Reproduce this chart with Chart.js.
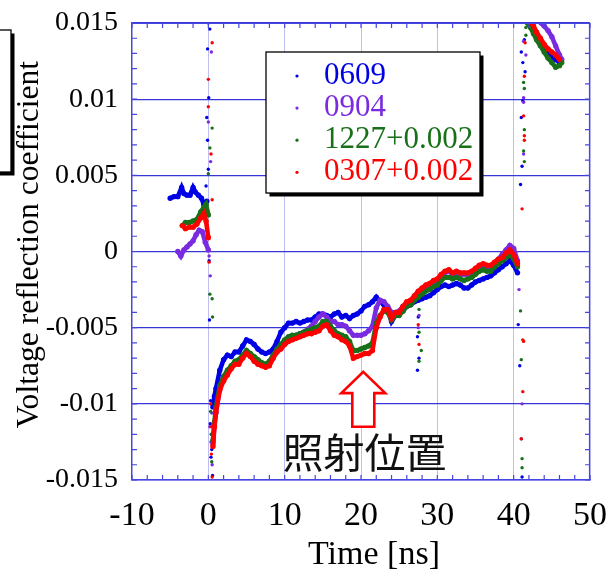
<!DOCTYPE html>
<html>
<head>
<meta charset="utf-8">
<script src="https://cdn.jsdelivr.net/npm/chart.js@4.4.1/dist/chart.umd.min.js"></script>
<style>
  html, body { margin: 0; padding: 0; background: #fff; overflow: hidden; }
  canvas { display: block; }
</style>
</head>
<body>
<canvas id="chart" width="612" height="571"></canvas>
<script>
// ---- series names and colours ----
const seriesNames  = ['0609', '0904', '1227+0.002', '0307+0.002'];
const seriesColors = ['#0000e6', '#7a2be0', '#187018', '#ff0000'];

// ---- axis ticks and titles ----
const xTickValues = [-10, 0, 10, 20, 30, 40, 50];
const yTickValues = [-0.015, -0.01, -0.005, 0, 0.005, 0.01, 0.015];
const xTitle = 'Time [ns]';
const yTitle = 'Voltage reflection coefficient';

// ---- common time base of the main trace (ns) ----
const mainTime = [
  0.6, 0.8, 1, 1.5, 2, 2.5, 3, 3.5, 4, 4.5,
  5, 5.5, 6, 6.5, 7, 7.5, 8, 8.5, 9, 9.5,
  10, 10.5, 11, 11.5, 12, 12.5, 13, 13.5, 14, 14.5,
  15, 15.5, 16, 16.5, 17, 17.5, 18, 18.5, 19, 19.5,
  20, 20.5, 21, 21.5, 22, 22.5, 23, 23.5, 24, 24.5,
  25, 25.5, 26, 26.5, 27, 27.5, 28, 28.5, 29, 29.5,
  30, 30.5, 31, 31.5, 32, 32.5, 33, 33.5, 34, 34.5,
  35, 35.5, 36, 36.5, 37, 37.5, 38, 38.5, 39, 39.5,
  40, 40.5
];

// ---- main trace values, one per mainTime entry ----
const blueMain = [
  -0.0102, -0.0095, -0.0090, -0.0078, -0.0071, -0.0068, -0.0069, -0.0066, -0.0066, -0.0062,
  -0.0058, -0.0059, -0.0061, -0.0064, -0.0066, -0.0067, -0.0066, -0.0064, -0.0059, -0.0053,
  -0.0050, -0.0047, -0.0047, -0.0046, -0.0047, -0.0046, -0.0045, -0.0045, -0.0043, -0.0041,
  -0.0041, -0.0042, -0.0043, -0.0041, -0.0040, -0.0043, -0.0042, -0.0044, -0.0042, -0.0041,
  -0.0039, -0.0036, -0.0035, -0.0033, -0.0030, -0.0033, -0.0035, -0.0038, -0.0046, -0.0042,
  -0.0040, -0.0039, -0.0036, -0.0035, -0.0033, -0.0032, -0.0031, -0.0030, -0.0029, -0.0027,
  -0.0025, -0.0023, -0.0022, -0.0023, -0.0022, -0.0021, -0.0022, -0.0024, -0.0024, -0.0022,
  -0.0020, -0.0019, -0.0018, -0.0017, -0.0016, -0.0014, -0.0012, -0.0010, -0.0008, -0.0006,
  -0.0009, -0.0014
];
const purpleMain = [
  -0.0126, -0.0114, -0.0106, -0.0090, -0.0083, -0.0079, -0.0076, -0.0073, -0.0072, -0.0069,
  -0.0066, -0.0068, -0.0070, -0.0072, -0.0074, -0.0075, -0.0073, -0.0069, -0.0065, -0.0062,
  -0.0059, -0.0057, -0.0056, -0.0055, -0.0054, -0.0053, -0.0051, -0.0049, -0.0046, -0.0043,
  -0.0041, -0.0043, -0.0046, -0.0046, -0.0048, -0.0048, -0.0049, -0.0052, -0.0055, -0.0055,
  -0.0055, -0.0054, -0.0052, -0.0049, -0.0037, -0.0032, -0.0033, -0.0036, -0.0040, -0.0040,
  -0.0039, -0.0036, -0.0034, -0.0033, -0.0030, -0.0027, -0.0025, -0.0023, -0.0022, -0.0020,
  -0.0019, -0.0016, -0.0014, -0.0013, -0.0015, -0.0014, -0.0015, -0.0015, -0.0015, -0.0014,
  -0.0012, -0.0010, -0.0009, -0.0010, -0.0010, -0.0008, -0.0005, -0.0002, 0.0001, 0.0004,
  0.0002, -0.0006
];
const greenMain = [
  -0.0124, -0.0112, -0.0102, -0.0088, -0.0082, -0.0078, -0.0075, -0.0072, -0.0071, -0.0068,
  -0.0065, -0.0067, -0.0069, -0.0071, -0.0073, -0.0074, -0.0072, -0.0068, -0.0064, -0.0061,
  -0.0058, -0.0056, -0.0055, -0.0055, -0.0054, -0.0053, -0.0052, -0.0051, -0.0050, -0.0049,
  -0.0046, -0.0046, -0.0049, -0.0052, -0.0054, -0.0055, -0.0056, -0.0059, -0.0065, -0.0065,
  -0.0064, -0.0063, -0.0062, -0.0060, -0.0047, -0.0042, -0.0039, -0.0040, -0.0045, -0.0042,
  -0.0042, -0.0039, -0.0036, -0.0035, -0.0032, -0.0030, -0.0028, -0.0026, -0.0025, -0.0023,
  -0.0022, -0.0019, -0.0017, -0.0017, -0.0018, -0.0017, -0.0018, -0.0019, -0.0018, -0.0017,
  -0.0015, -0.0013, -0.0012, -0.0013, -0.0013, -0.0010, -0.0008, -0.0006, -0.0004, -0.0002,
  -0.0005, -0.0010
];
const redMain = [
  -0.0128, -0.0115, -0.0105, -0.0091, -0.0085, -0.0081, -0.0077, -0.0074, -0.0074, -0.0070,
  -0.0067, -0.0069, -0.0072, -0.0074, -0.0075, -0.0076, -0.0075, -0.0070, -0.0066, -0.0064,
  -0.0061, -0.0059, -0.0058, -0.0057, -0.0056, -0.0055, -0.0054, -0.0054, -0.0053, -0.0052,
  -0.0049, -0.0048, -0.0052, -0.0055, -0.0056, -0.0058, -0.0059, -0.0062, -0.0070, -0.0069,
  -0.0068, -0.0067, -0.0067, -0.0065, -0.0050, -0.0043, -0.0038, -0.0038, -0.0044, -0.0040,
  -0.0040, -0.0036, -0.0033, -0.0032, -0.0029, -0.0026, -0.0024, -0.0022, -0.0021, -0.0019,
  -0.0018, -0.0015, -0.0013, -0.0012, -0.0014, -0.0013, -0.0014, -0.0014, -0.0014, -0.0013,
  -0.0011, -0.0009, -0.0008, -0.0009, -0.0009, -0.0007, -0.0005, -0.0004, -0.0001, 0.0001,
  -0.0002, -0.0008
];

// ---- level before the pulse, [time ns, value] ----
const blueLead = [[-5.0, 0.0035], [-4.5, 0.0036], [-4.0, 0.0036], [-3.5, 0.0042], [-3.2, 0.0038],
  [-2.8, 0.0037], [-2.4, 0.0037], [-2.0, 0.0042], [-1.7, 0.0039], [-1.3, 0.0037], [-0.9, 0.0035],
  [-0.6, 0.0031], [-0.2, 0.0033]];
const purpleLead = [[-4.0, 0.0000], [-3.6, -0.0003], [-3.2, 0.0001], [-2.8, 0.0003], [-2.4, 0.0005],
  [-2.0, 0.0007], [-1.6, 0.0011], [-1.2, 0.0014], [-0.8, 0.0013], [-0.4, 0.0006], [0.0, 0.0001]];
const greenLead = [[-3.4, 0.0017], [-3.0, 0.0019], [-2.5, 0.0019], [-2.0, 0.0020], [-1.5, 0.0021],
  [-1.0, 0.0026], [-0.6, 0.0029], [-0.3, 0.0031], [0.0, 0.0024]];
const redLead = [[-3.4, 0.0017], [-3.0, 0.0015], [-2.5, 0.0016], [-2.0, 0.0016], [-1.5, 0.0018],
  [-1.0, 0.0022], [-0.6, 0.0025], [-0.3, 0.0020], [0.0, 0.0009]];

// ---- trace after the second reflection, [time ns, value] ----
const blueTail = [[42.2, 0.0148], [42.6, 0.0145], [43.0, 0.0141], [43.5, 0.0138], [44.0, 0.0134],
  [44.5, 0.0131], [45.0, 0.0128], [45.5, 0.0126], [46.0, 0.0124]];
const purpleTail = [[43.6, 0.0150], [44.0, 0.0148], [44.5, 0.0145], [45.0, 0.0141], [45.5, 0.0135],
  [46.0, 0.0129], [46.3, 0.0126]];
const greenTail = [[41.8, 0.0150], [42.2, 0.0147], [42.6, 0.0143], [43.0, 0.0139], [43.5, 0.0135],
  [44.0, 0.0131], [44.5, 0.0127], [45.0, 0.0124], [45.5, 0.0121], [46.0, 0.0122], [46.3, 0.0124]];
const redTail = [[42.3, 0.0150], [42.6, 0.0148], [43.0, 0.0144], [43.5, 0.0140], [44.0, 0.0136],
  [44.5, 0.0133], [45.0, 0.0131], [45.5, 0.0129], [46.0, 0.0126]];

// ---- isolated samples on the fast edges, [time ns, value] ----
const blueJumps = [[0.2, 0.0146], [-0.1, 0.0133], [0.05, 0.0101], [-0.2, 0.0088], [-0.1, 0.0073],
  [0.0, 0.0054], [-0.3, 0.0043], [0.1, -0.0006], [0.15, -0.0045], [0.3, -0.0098], [0.25, -0.0113],
  [0.45, -0.0130], [0.35, -0.0135], [0.55, -0.0147], [0.4, -0.0120],
  [27.5, -0.0043], [27.4, -0.0056], [27.6, -0.0070], [27.4, -0.0078],
  [40.6, -0.0048], [40.8, -0.0075], [41.0, -0.0123], [41.1, -0.0148], [40.9, 0.0044], [41.1, 0.0056],
  [41.0, 0.0088], [41.2, 0.0099], [41.5, 0.0118], [41.2, 0.0124], [41.0, 0.0131], [41.4, 0.0139]];
const purpleJumps = [[0.4, 0.0131], [0.0, 0.0085], [0.3, 0.0059], [0.1, -0.0003], [0.25, -0.0016],
  [0.35, -0.0125], [0.2, -0.0115], [0.5, -0.0140], [0.45, -0.0106],
  [27.6, -0.0042], [27.5, -0.0050],
  [41.1, -0.0100], [40.7, -0.0025], [41.3, 0.0064], [41.3, 0.0098], [41.3, 0.0101], [41.6, 0.0129],
  [41.3, 0.0138]];
const greenJumps = [[0.0, 0.0150], [0.5, 0.0081], [0.2, 0.0068], [0.0, 0.0051], [0.2, -0.0028],
  [0.5, -0.0031], [0.55, -0.0043], [0.4, -0.0120], [0.45, -0.0138], [0.3, -0.0105],
  [27.6, -0.0038], [27.6, -0.0053], [27.9, -0.0065], [27.6, -0.0072],
  [40.9, -0.0039], [41.0, -0.0071], [41.1, -0.0136], [41.1, -0.0142], [41.4, 0.0059], [41.3, 0.0066],
  [41.4, 0.0080], [41.4, 0.0107], [41.3, 0.0111], [41.6, 0.0142], [41.6, 0.0147]];
const redJumps = [[0.5, 0.0137], [0.0, 0.0113], [0.0, 0.0095], [0.35, 0.0064], [0.5, 0.0034],
  [0.1, -0.0007], [0.5, -0.0148], [0.4, -0.0133], [0.3, -0.0100], [0.45, -0.0115],
  [27.5, -0.0048], [27.6, -0.0061],
  [41.2, -0.0058], [41.3, -0.0059], [41.2, -0.0092], [41.0, -0.0123], [41.1, 0.0028], [41.4, 0.0073],
  [41.4, 0.0076], [41.3, 0.0089], [41.4, 0.0115], [41.5, 0.0137]];

// ---- irradiation-position marker ----
const noteText = '照射位置';
const arrowTime = 20.3;                                   // ns
const arrowTip = -0.0079, arrowNeck = -0.0093, arrowBase = -0.0115;
const noteTime = 20.45, noteLevel = -0.0132;

// ---------------------------------------------------------------
const leads  = [blueLead, purpleLead, greenLead, redLead];
const mains  = [blueMain, purpleMain, greenMain, redMain];
const tails  = [blueTail, purpleTail, greenTail, redTail];
const jumps  = [blueJumps, purpleJumps, greenJumps, redJumps];

const toPoints = pairs => pairs.map(([x, y]) => ({ x, y }));
const gap = x => ({ x, y: null });

const datasets = [];
seriesNames.forEach((name, i) => {
  const color = seriesColors[i];
  const drawOrder = seriesNames.length - 1 - i;   // last series on top
  datasets.push({
    label: name,
    data: [
      ...toPoints(leads[i]), gap(0.3),
      ...mainTime.map((t, k) => ({ x: t, y: mains[i][k] })), gap(41.5),
      ...toPoints(tails[i])
    ],
    showLine: true,
    spanGaps: false,
    borderColor: color,
    backgroundColor: color,
    borderWidth: 4.6,
    pointRadius: 2.7,
    pointBorderWidth: 0,
    pointHoverRadius: 2.7,
    order: drawOrder,
    clip: 0
  });
  datasets.push({
    label: name + ' edge',
    data: toPoints(jumps[i]),
    showLine: false,
    backgroundColor: color,
    borderColor: color,
    pointRadius: 1.7,
    pointBorderWidth: 0,
    order: drawOrder,
    clip: 0
  });
});

const AXIS_BLUE = 'rgb(70,70,225)';
const SERIF = "'Liberation Serif', 'Times New Roman', serif";

function shadowBox(ctx, x, y, w, h) {
  ctx.save();
  ctx.fillStyle = '#000';
  ctx.fillRect(x + 3.5, y + 3.5, w, h);
  ctx.fillStyle = '#fff';
  ctx.fillRect(x, y, w, h);
  ctx.strokeStyle = '#000';
  ctx.lineWidth = 1.3;
  ctx.strokeRect(x, y, w, h);
  ctx.restore();
}

const framePlugin = {
  id: 'frame',
  beforeDraw(chart) {
    // neighbouring panel edge at the far left
    shadowBox(chart.ctx, -20, 30, 31, 142);
  },
  afterDatasetsDraw(chart) {
    const { ctx, chartArea: a, scales: { x, y } } = chart;
    ctx.save();
    ctx.strokeStyle = AXIS_BLUE;
    ctx.lineWidth = 1.2;
    // top and right edges of the plot frame
    ctx.beginPath();
    ctx.moveTo(a.left, a.top + 0.5); ctx.lineTo(a.right, a.top + 0.5);
    ctx.moveTo(a.right - 0.5, a.top); ctx.lineTo(a.right - 0.5, a.bottom);
    ctx.stroke();
    // inward minor ticks
    ctx.beginPath();
    for (let t = -10; t <= 50; t += 2) {
      const px = x.getPixelForValue(t);
      ctx.moveTo(px, a.bottom); ctx.lineTo(px, a.bottom - 5);
      ctx.moveTo(px, a.top); ctx.lineTo(px, a.top + 5);
    }
    for (let k = -15; k <= 15; k++) {
      const py = y.getPixelForValue(k / 1000);
      ctx.moveTo(a.left, py); ctx.lineTo(a.left + 5, py);
      ctx.moveTo(a.right, py); ctx.lineTo(a.right - 5, py);
    }
    ctx.stroke();
    ctx.restore();
  },
  afterDraw(chart) {
    const { ctx, chartArea: a, scales: { x, y } } = chart;

    // legend box
    const lx = a.left + 134, ly = a.top + 29, lw = 214, lh = 141;
    shadowBox(ctx, lx, ly, lw, lh);
    ctx.save();
    ctx.font = '31px ' + SERIF;
    ctx.textBaseline = 'middle';
    ctx.textAlign = 'left';
    seriesNames.forEach((name, i) => {
      const rowY = ly + 24 + i * 32.1;
      ctx.fillStyle = seriesColors[i];
      ctx.beginPath();
      ctx.arc(lx + 31, rowY, 1.6, 0, Math.PI * 2);
      ctx.fill();
      ctx.fillText(name, lx + 58, rowY);
    });
    ctx.restore();

    // irradiation arrow
    const ax = x.getPixelForValue(arrowTime);
    const yTip = y.getPixelForValue(arrowTip);
    const yNeck = y.getPixelForValue(arrowNeck);
    const yBase = y.getPixelForValue(arrowBase);
    ctx.save();
    ctx.beginPath();
    ctx.moveTo(ax, yTip);
    ctx.lineTo(ax + 22, yNeck);
    ctx.lineTo(ax + 11, yNeck);
    ctx.lineTo(ax + 11, yBase);
    ctx.lineTo(ax - 11, yBase);
    ctx.lineTo(ax - 11, yNeck);
    ctx.lineTo(ax - 22, yNeck);
    ctx.closePath();
    ctx.fillStyle = '#fff';
    ctx.fill();
    ctx.strokeStyle = '#ff0000';
    ctx.lineWidth = 2.6;
    ctx.lineJoin = 'miter';
    ctx.stroke();

    ctx.fillStyle = '#111';
    ctx.font = "41px 'Noto Sans CJK JP', 'Noto Sans CJK SC', sans-serif";
    ctx.textAlign = 'center';
    ctx.textBaseline = 'middle';
    ctx.fillText(noteText, x.getPixelForValue(noteTime), y.getPixelForValue(noteLevel));

    // axis titles
    ctx.fillStyle = '#000';
    ctx.font = '34px ' + SERIF;
    ctx.textBaseline = 'alphabetic';
    ctx.fillText(xTitle, (a.left + a.right) / 2 + 13, 564);

    ctx.translate(29.5, (a.top + a.bottom) / 2 - 7);
    ctx.rotate(-Math.PI / 2);
    ctx.font = '31.6px ' + SERIF;
    ctx.textBaseline = 'middle';
    ctx.fillText(yTitle, 0, 0);
    ctx.restore();
  }
};

Chart.defaults.font.family = SERIF;
Chart.defaults.color = '#000';

new Chart(document.getElementById('chart'), {
  type: 'scatter',
  data: { datasets },
  options: {
    responsive: false,
    animation: false,
    events: [],
    layout: { padding: { top: 23, right: 22, bottom: 0, left: 0 } },
    plugins: { legend: { display: false }, tooltip: { enabled: false } },
    scales: {
      x: {
        type: 'linear',
        min: -10, max: 50,
        afterBuildTicks: s => { s.ticks = xTickValues.map(v => ({ value: v })); },
        afterFit: s => { s.height = 91; s.paddingLeft = 0; s.paddingRight = 0; },
        ticks: { font: { size: 34 }, color: '#000', padding: 16, callback: v => String(v), maxRotation: 0 },
        grid: { color: 'rgb(190,190,240)', lineWidth: 1, drawTicks: false },
        border: { color: AXIS_BLUE, width: 1.4 }
      },
      y: {
        type: 'linear',
        min: -0.015, max: 0.015,
        afterBuildTicks: s => { s.ticks = yTickValues.map(v => ({ value: v })); },
        afterFit: s => { s.width = 132; s.paddingTop = 0; s.paddingBottom = 0; },
        ticks: { font: { size: 28 }, color: '#000', padding: 14, callback: v => String(v) },
        grid: { color: 'rgb(55,55,215)', lineWidth: 1.3, drawTicks: false },
        border: { color: AXIS_BLUE, width: 1.2 }
      }
    }
  },
  plugins: [framePlugin]
});
</script>
</body>
</html>
